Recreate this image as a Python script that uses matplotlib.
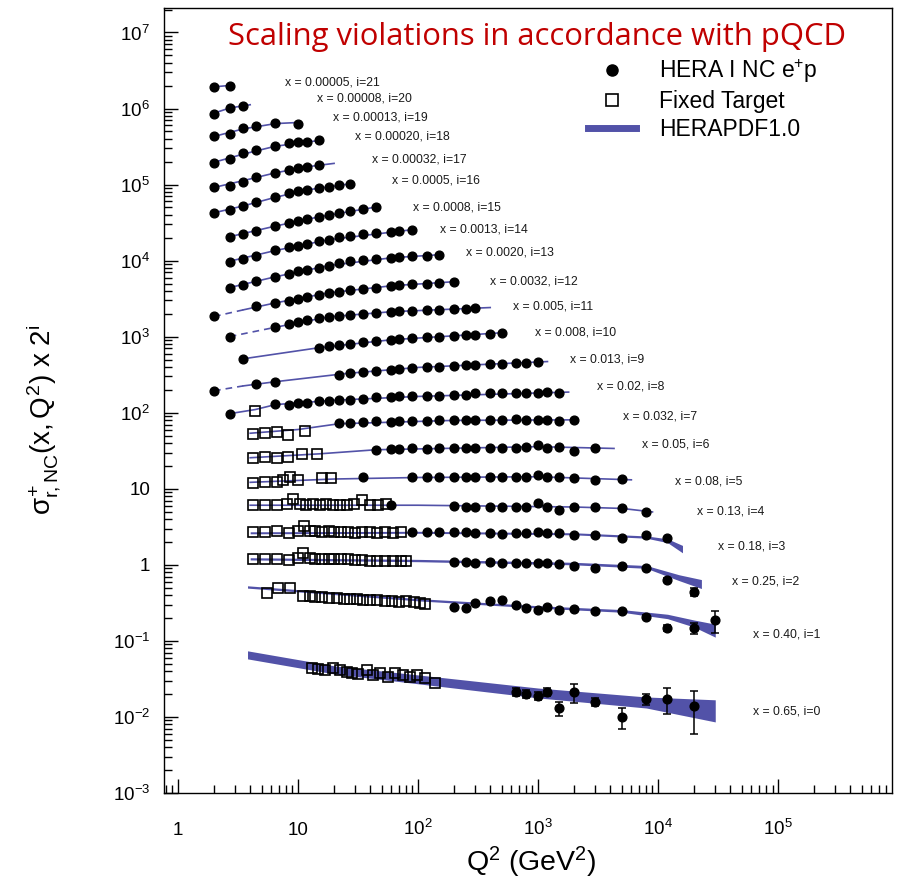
import matplotlib
matplotlib.use("Agg")
import matplotlib.pyplot as plt
from matplotlib.ticker import LogLocator, FixedLocator, FuncFormatter, NullFormatter
from matplotlib.lines import Line2D
import numpy as np

plt.rcParams['font.family'] = ['Liberation Sans', 'DejaVu Sans']
plt.rcParams['mathtext.fontset'] = 'custom'
plt.rcParams['mathtext.rm'] = 'Liberation Sans'
plt.rcParams['mathtext.it'] = 'Liberation Sans'
plt.rcParams['mathtext.sf'] = 'Liberation Sans'
plt.rcParams['mathtext.bf'] = 'Liberation Sans:bold'

# x bins, index i = 0..21 (plotted value = sigma_r * 2^i)
x_values = ['0.65', '0.40', '0.25', '0.18', '0.13', '0.08', '0.05', '0.032',
            '0.02', '0.013', '0.008', '0.005', '0.0032', '0.0020', '0.0013',
            '0.0008', '0.0005', '0.00032', '0.00020', '0.00013', '0.00008',
            '0.00005']

# HERA I NC e+p points: Q2 and reduced cross section
hera_q2 = {
    21: [2, 2.7],
    20: [2, 2.7, 3.5],
    19: [2, 2.7, 3.5, 4.5, 6.5, 10],
    18: [2, 2.7, 3.5, 4.5, 6.5, 8.5, 10, 12, 15],
    17: [2, 2.7, 3.5, 4.5, 6.5, 8.5, 10, 12, 15],
    16: [2, 2.7, 3.5, 4.5, 6.5, 8.5, 10, 12, 15, 18, 22, 27],
    15: [2.7, 3.5, 4.5, 6.5, 8.5, 10, 12, 15, 18, 22, 27, 35, 45],
    14: [2.7, 3.5, 4.5, 6.5, 8.5, 10, 12, 15, 18, 22, 27, 35, 45, 60, 70, 90],
    13: [2.7, 3.5, 4.5, 6.5, 8.5, 10, 12, 15, 18, 22, 27, 35, 45, 60, 70, 90,
         120, 150],
    12: [2, 4.5, 6.5, 8.5, 10, 12, 15, 18, 22, 27, 35, 45, 60, 70, 90, 120,
         150, 200],
    11: [2.7, 6.5, 8.5, 10, 12, 15, 18, 22, 27, 35, 45, 60, 70, 90, 120, 150,
         200, 250, 300],
    10: [3.5, 15, 18, 22, 27, 35, 45, 60, 70, 90, 120, 150, 200, 250, 300,
         400, 500],
    9: [2, 4.5, 6.5, 22, 27, 35, 45, 60, 70, 90, 120, 150, 200, 250, 300, 400,
        500, 650, 800, 1000],
    8: [2.7, 6.5, 8.5, 10, 12, 15, 18, 22, 27, 35, 45, 60, 70, 90, 120, 150,
        200, 250, 300, 400, 500, 650, 800, 1000, 1200, 1500],
    7: [22, 27, 35, 45, 60, 70, 90, 120, 150, 200, 250, 300, 400, 500, 650,
        800, 1000, 1200, 1500, 2000],
    6: [45, 60, 70, 90, 120, 150, 200, 250, 300, 400, 500, 650, 800, 1000,
        1200, 1500, 2000, 3000],
    5: [35, 90, 120, 150, 200, 250, 300, 400, 500, 650, 800, 1000, 1200, 1500,
        2000, 3000, 5000],
    4: [60, 200, 250, 300, 400, 500, 650, 800, 1000, 1200, 1500, 2000, 3000,
        5000, 8000],
    3: [90, 120, 150, 200, 250, 300, 400, 500, 650, 800, 1000, 1200, 1500,
        2000, 3000, 5000, 8000, 12000],
    2: [200, 250, 300, 400, 500, 650, 800, 1000, 1200, 1500, 2000, 3000, 5000,
        8000, 12000, 20000],
    1: [200, 250, 300, 400, 500, 650, 800, 1000, 1200, 1500, 2000, 3000, 5000,
        8000, 12000, 20000, 30000],
    0: [650, 800, 1000, 1200, 1500, 2000, 3000, 5000, 8000, 12000, 20000],
}
hera_sig = {
    21: [0.92, 0.95],
    20: [0.82, 0.98, 1.04],
    19: [0.82, 0.87, 1.07, 1.14, 1.25, 1.21],
    18: [0.74, 0.84, 0.98, 1.10, 1.24, 1.33, 1.37, 1.40, 1.45],
    17: [0.70, 0.74, 0.83, 0.97, 1.10, 1.20, 1.27, 1.31, 1.38],
    16: [0.65, 0.71, 0.81, 0.91, 1.06, 1.20, 1.27, 1.31, 1.39, 1.43, 1.52, 1.57],
    15: [0.63, 0.69, 0.76, 0.88, 0.96, 1.02, 1.09, 1.16, 1.23, 1.31, 1.39,
         1.47, 1.57],
    14: [0.59, 0.65, 0.71, 0.83, 0.91, 0.96, 1.02, 1.09, 1.15, 1.23, 1.30,
         1.38, 1.43, 1.47, 1.52, 1.56],
    13: [0.54, 0.59, 0.65, 0.75, 0.82, 0.88, 0.93, 0.99, 1.05, 1.12, 1.19,
         1.26, 1.30, 1.34, 1.38, 1.42, 1.42, 1.47],
    12: [0.45, 0.61, 0.68, 0.73, 0.77, 0.82, 0.87, 0.92, 0.95, 1.01, 1.04,
         1.08, 1.14, 1.18, 1.21, 1.21, 1.25, 1.29],
    11: [0.49, 0.66, 0.72, 0.77, 0.82, 0.87, 0.89, 0.92, 0.95, 0.98, 1.01,
         1.04, 1.07, 1.07, 1.10, 1.11, 1.14, 1.14, 1.17],
    10: [0.50, 0.70, 0.74, 0.77, 0.79, 0.84, 0.87, 0.89, 0.92, 0.95, 0.98,
         0.98, 1.01, 1.04, 1.04, 1.07, 1.10],
    9: [0.38, 0.46, 0.50, 0.62, 0.66, 0.68, 0.70, 0.72, 0.74, 0.76, 0.79,
        0.79, 0.81, 0.84, 0.84, 0.86, 0.86, 0.89, 0.89, 0.92],
    8: [0.38, 0.51, 0.50, 0.53, 0.53, 0.55, 0.56, 0.58, 0.58, 0.60, 0.62,
        0.62, 0.64, 0.64, 0.65, 0.65, 0.67, 0.67, 0.70, 0.70, 0.70, 0.72,
        0.72, 0.72, 0.74, 0.72],
    7: [0.57, 0.58, 0.59, 0.60, 0.59, 0.61, 0.60, 0.61, 0.62, 0.62, 0.63,
        0.62, 0.63, 0.63, 0.64, 0.63, 0.63, 0.62, 0.61, 0.62],
    6: [0.51, 0.52, 0.52, 0.53, 0.52, 0.53, 0.53, 0.54, 0.54, 0.54, 0.54,
        0.54, 0.56, 0.59, 0.54, 0.56, 0.49, 0.54],
    5: [0.45, 0.45, 0.44, 0.45, 0.44, 0.45, 0.44, 0.45, 0.45, 0.45, 0.45,
        0.48, 0.45, 0.45, 0.435, 0.41, 0.42],
    4: [0.385, 0.37, 0.36, 0.365, 0.36, 0.362, 0.362, 0.362, 0.41, 0.362,
        0.33, 0.362, 0.362, 0.351, 0.311],
    3: [0.34, 0.34, 0.34, 0.335, 0.34, 0.33, 0.33, 0.32, 0.33, 0.33, 0.34,
        0.33, 0.33, 0.31, 0.31, 0.284, 0.311, 0.284],
    2: [0.27, 0.27, 0.265, 0.27, 0.266, 0.266, 0.266, 0.266, 0.266, 0.26,
        0.242, 0.228, 0.242, 0.228, 0.158, 0.110],
    1: [0.140, 0.136, 0.158, 0.165, 0.173, 0.149, 0.136, 0.128, 0.140, 0.128,
        0.132, 0.124, 0.124, 0.103, 0.074, 0.074, 0.094],
    0: [0.0213, 0.0202, 0.0190, 0.0213, 0.0131, 0.0213, 0.0157, 0.0100,
        0.0173, 0.0173, 0.0139],
}
hera_err = {
    2: [0.004, 0.004, 0.004, 0.004, 0.004, 0.004, 0.004, 0.004, 0.004, 0.004,
        0.004, 0.004, 0.004, 0.005, 0.010, 0.014],
    1: [0.004, 0.004, 0.004, 0.004, 0.004, 0.004, 0.004, 0.004, 0.004, 0.004,
        0.004, 0.004, 0.004, 0.005, 0.007, 0.012, 0.030],
    0: [0.0025, 0.0025, 0.0025, 0.0025, 0.0028, 0.006, 0.0018, 0.003, 0.003,
        0.0065, 0.008],
}

# fixed target points
ft_q2 = {
    8: [4.4],
    7: [4.2, 5.3, 6.7, 8.3, 11.4],
    6: [4.2, 5.3, 6.7, 8.3, 10.8, 14.4],
    5: [4.2, 5.3, 6.7, 7.5, 8.6, 10, 16, 19],
    4: [4.2, 5.3, 6.7, 8.1, 9.1, 10.4, 11.7, 13.3, 15.2, 17.1, 19.6, 22.4,
        25.6, 29.3, 34.1, 39.8, 46.4, 54],
    3: [4.2, 5.3, 6.7, 8.5, 10, 11.3, 12.5, 14, 16, 18, 20, 23, 26, 30, 34,
        40, 46, 53, 62, 72],
    2: [4.2, 5.3, 6.7, 8.5, 10, 11, 12.5, 14, 16, 18, 20, 23, 26, 30, 34, 40,
        46, 53, 62, 72, 80],
    1: [5.5, 6.8, 8.6, 11, 12.5, 14, 16, 18, 21, 24, 27, 31, 35, 40, 46, 53,
        61, 70, 80, 92, 104, 114],
    0: [13, 14.7, 16.7, 19.6, 22.4, 25.6, 28.2, 31.6, 37.6, 42.2, 48.3, 56.2,
        64.2, 75, 86, 98, 114, 138],
}
ft_sig = {
    8: [0.415],
    7: [0.413, 0.425, 0.438, 0.401, 0.452],
    6: [0.40, 0.41, 0.40, 0.41, 0.45, 0.45],
    5: [0.374, 0.385, 0.385, 0.41, 0.45, 0.41, 0.436, 0.436],
    4: [0.385, 0.38, 0.385, 0.39, 0.46, 0.39, 0.385, 0.39, 0.385, 0.39,
        0.385, 0.38, 0.385, 0.39, 0.45, 0.385, 0.385, 0.39],
    3: [0.34, 0.34, 0.345, 0.33, 0.35, 0.40, 0.35, 0.345, 0.34, 0.345, 0.34,
        0.335, 0.34, 0.33, 0.34, 0.335, 0.33, 0.335, 0.33, 0.335],
    2: [0.30, 0.30, 0.30, 0.29, 0.31, 0.36, 0.31, 0.30, 0.30, 0.30, 0.30,
        0.295, 0.295, 0.29, 0.29, 0.285, 0.285, 0.28, 0.28, 0.28, 0.28],
    1: [0.21, 0.245, 0.245, 0.195, 0.195, 0.19, 0.19, 0.185, 0.185, 0.18,
        0.18, 0.178, 0.175, 0.172, 0.17, 0.168, 0.165, 0.16, 0.165, 0.16,
        0.158, 0.155],
    0: [0.044, 0.043, 0.0415, 0.044, 0.0415, 0.039, 0.038, 0.037, 0.0415,
        0.036, 0.038, 0.034, 0.038, 0.036, 0.034, 0.036, 0.033, 0.028],
}

# HERAPDF1.0 as a line (low x) ...
curve_q2 = {
    21: [2, 2.7], 20: [2, 2.7, 4], 19: [2, 3.5, 6.5, 10],
    18: [2, 3.5, 6.5, 15], 17: [2, 3.5, 6.5, 12, 20],
    16: [2, 3.5, 6.5, 12, 27], 15: [2.7, 6.5, 15, 45],
    14: [2.7, 6.5, 18, 90], 13: [2.7, 6.5, 18, 60, 150],
    12: [2, 3.5, 6.5, 18, 60, 200], 11: [2.7, 6.5, 18, 60, 400],
    10: [3.5, 15, 60, 500], 9: [2, 3.5, 6.5, 25, 100, 1200],
    8: [2.7, 4.4, 6.5, 20, 100, 1800], 7: [4, 10, 22, 200, 2000],
    6: [4, 15, 45, 1000, 4300], 5: [4, 20, 100, 1000, 6000],
    4: [4, 100, 2000, 5000, 9000],
}
curve_sig = {
    21: [0.92, 0.96], 20: [0.83, 0.97, 1.07], 19: [0.82, 1.03, 1.21, 1.25],
    18: [0.75, 0.96, 1.22, 1.45], 17: [0.70, 0.86, 1.09, 1.31, 1.45],
    16: [0.65, 0.80, 1.04, 1.30, 1.56], 15: [0.63, 0.87, 1.15, 1.55],
    14: [0.60, 0.83, 1.15, 1.56], 13: [0.54, 0.75, 1.05, 1.33, 1.46],
    12: [0.45, 0.55, 0.68, 0.92, 1.14, 1.29], 11: [0.49, 0.65, 0.89, 1.04, 1.18],
    10: [0.50, 0.70, 0.89, 1.10], 9: [0.38, 0.44, 0.50, 0.64, 0.77, 0.92],
    8: [0.38, 0.43, 0.50, 0.57, 0.64, 0.73], 7: [0.42, 0.47, 0.56, 0.62, 0.63],
    6: [0.40, 0.45, 0.51, 0.56, 0.53], 5: [0.38, 0.42, 0.44, 0.45, 0.41],
    4: [0.38, 0.38, 0.36, 0.345, 0.31],
}
dashed_rows = [12, 11, 9]

# ... and as an uncertainty band (high x)
band_q2 = {
    3: [4, 100, 2000, 8000, 12000, 16000],
    2: [4, 100, 2000, 8000, 15000, 23000],
    1: [3.8, 100, 1000, 5000, 12000, 20000, 30000],
    0: [3.8, 20, 100, 1000, 8000, 30000],
}
band_hi = {
    3: [0.34, 0.345, 0.33, 0.30, 0.275, 0.225],
    2: [0.31, 0.295, 0.27, 0.245, 0.185, 0.16],
    1: [0.265, 0.180, 0.145, 0.129, 0.112, 0.094, 0.083],
    0: [0.074, 0.047, 0.0357, 0.024, 0.0183, 0.0168],
}
band_lo = {
    3: [0.32, 0.325, 0.31, 0.28, 0.245, 0.18],
    2: [0.29, 0.275, 0.25, 0.225, 0.155, 0.122],
    1: [0.247, 0.168, 0.135, 0.119, 0.098, 0.076, 0.056],
    0: [0.058, 0.0368, 0.0273, 0.0178, 0.0131, 0.0086],
}

# label positions (Q2, plotted value)
label_q2 = [61900, 61900, 41400, 31600, 21100, 13860, 7360, 5110, 3100, 1848,
            944, 619, 398, 251, 152, 90.8, 60.7, 41.4, 29.9, 19.6, 14.4, 7.8]
label_y = [0.01164, 0.1199, 0.597, 1.726, 4.98, 12.36, 37.9, 88.5, 220, 498,
           1130, 2483, 5297, 12735, 25590, 49770, 1.13e5, 2.13e5, 4.29e5,
           7.62e5, 1.355e6, 2.2e6]

pdf_color = '#5252a8'

fig = plt.figure(figsize=(9.15, 8.88), dpi=100)
ax = fig.add_axes([0.1792, 0.1070, 0.7956, 0.8840])
ax.set_xscale('log')
ax.set_yscale('log')

for i in range(22):
    scale = 2.0 ** i
    if i in band_q2:
        ax.fill_between(band_q2[i], np.array(band_lo[i]) * scale,
                        np.array(band_hi[i]) * scale, color=pdf_color, lw=0,
                        zorder=1)
    else:
        q = curve_q2[i]
        s = np.array(curve_sig[i]) * scale
        if i in dashed_rows:
            ax.plot(q[:2], s[:2], color=pdf_color, lw=1.2, ls=(0, (4, 3)), zorder=1)
            ax.plot(q[1:], s[1:], color=pdf_color, lw=1.2, zorder=1)
        else:
            ax.plot(q, s, color=pdf_color, lw=1.2, zorder=1)
    if i in ft_q2:
        ax.plot(ft_q2[i], np.array(ft_sig[i]) * scale, 's', mfc='none',
                mec='black', mew=1.2, ms=7, zorder=3)
    yerr = np.array(hera_err[i]) * scale if i in hera_err else None
    ax.errorbar(hera_q2[i], np.array(hera_sig[i]) * scale, yerr=yerr, fmt='o',
                color='black', ms=6.3, elinewidth=1.1, capsize=3, capthick=1.1,
                zorder=4)
    ax.text(label_q2[i], label_y[i], 'x = %s, i=%d' % (x_values[i], i),
            fontsize=8.8, ha='left', va='center', color='#1a1a1a')

ax.set_xlim(0.765, 8.9e5)
ax.set_ylim(1e-3, 2.1e7)


def log_fmt(v, pos):
    e = int(round(np.log10(v)))
    if e == 0:
        return '1'
    if e == 1:
        return '10'
    return r'$\mathregular{10^{%d}}$' % e


ax.xaxis.set_major_locator(FixedLocator([1, 10, 1e2, 1e3, 1e4, 1e5]))
ax.xaxis.set_minor_locator(LogLocator(base=10, subs=np.arange(2, 10), numticks=20))
ax.yaxis.set_major_locator(FixedLocator([1e-3, 1e-2, 1e-1, 1, 10, 1e2, 1e3,
                                         1e4, 1e5, 1e6, 1e7]))
ax.yaxis.set_minor_locator(LogLocator(base=10, subs=np.arange(2, 10), numticks=20))
ax.xaxis.set_major_formatter(FuncFormatter(log_fmt))
ax.yaxis.set_major_formatter(FuncFormatter(log_fmt))
ax.xaxis.set_minor_formatter(NullFormatter())
ax.yaxis.set_minor_formatter(NullFormatter())
ax.tick_params(which='both', direction='in', top=False, right=False,
               labelsize=13.5, width=1)
ax.tick_params(which='major', length=10)
ax.tick_params(which='minor', length=5.5)
ax.tick_params(axis='y', pad=10)
ax.tick_params(axis='x', pad=30)
for lab in ax.get_xticklabels():
    lab.set_va('baseline')
for sp in ax.spines.values():
    sp.set_linewidth(1.0)

# legend
handles = [Line2D([], [], marker='o', color='black', ls='none', ms=8),
           Line2D([], [], marker='s', mfc='none', mec='black', mew=1.2,
                  ls='none', ms=8.5),
           Line2D([], [], color=pdf_color, lw=5)]
ax.legend(handles, ['HERA I NC e$^{+}$p', 'Fixed Target', 'HERAPDF1.0'],
          loc='upper left', bbox_to_anchor=(588 / 915, 1 - 57 / 888),
          bbox_transform=fig.transFigure, frameon=False, fontsize=16.5,
          handlelength=2.1, handletextpad=1.0, labelspacing=0.22,
          borderpad=0, borderaxespad=0)

fig.text(228 / 915, 1 - 37 / 888, 'Scaling violations in accordance with pQCD',
         color='#c00000', fontsize=22.3, family=['Open Sans', 'DejaVu Sans'],
         ha='left', va='center')
fig.text(531 / 915, 1 - 862 / 888, r'Q$^{2}$ (GeV$^{2}$)', fontsize=20.5,
         ha='center', va='center')
fig.text(44 / 915, 1 - 420 / 888, r'$\sigma^{+}_{r,NC}(x,Q^{2})$ x 2$^{i}$',
         fontsize=20, rotation=90, ha='center', va='center')

fig.savefig('out.png', dpi=100)
